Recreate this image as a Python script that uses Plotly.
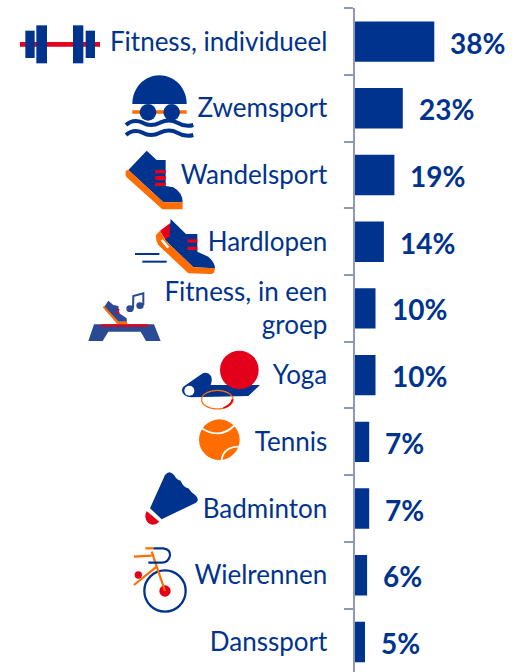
import re
import plotly.graph_objects as go

categories = ["Fitness, individueel", "Zwemsport", "Wandelsport", "Hardlopen",
              "Fitness, in een<br>groep", "Yoga", "Tennis", "Badminton", "Wielrennen", "Danssport"]
values = [38, 23, 19, 14, 10, 10, 7, 7, 6, 5]

NAVY = "#00338D"
RED = "#E2001A"
ORANGE = "#FF6C00"
AXIS = "#8E99B8"
W, H = 512, 672
FONT = "Lato"

shapes = []


def conv(d, ox, oy):
    toks = re.findall(r"[A-Za-z]|-?[\d.]+", d)
    out, isx = [], True
    for t in toks:
        if t.isalpha():
            out.append(t)
            isx = True
        else:
            v = float(t) / 3
            out.append(f"{(ox + v) / W:.5f}" if isx else f"{1 - (oy + v) / H:.5f}")
            isx = not isx
    res, i = "", 0
    while i < len(out):
        if out[i].isalpha():
            res += out[i]
            i += 1
        else:
            res += out[i] + "," + out[i + 1] + " "
            i += 2
    return res


def fill(o, d, c):
    shapes.append(dict(type="path", xref="paper", yref="paper", path=conv(d, *o),
                       fillcolor=c, line=dict(width=0), layer="above"))


def stroke(o, d, c, w):
    shapes.append(dict(type="path", xref="paper", yref="paper", path=conv(d, *o),
                       fillcolor="rgba(0,0,0,0)", line=dict(color=c, width=w), layer="above"))


def ell(o, cx, cy, rx, ry, c=None, lc=None, w=0):
    ox, oy = o
    shapes.append(dict(type="circle", xref="paper", yref="paper",
                       x0=(ox + (cx - rx) / 3) / W, x1=(ox + (cx + rx) / 3) / W,
                       y0=1 - (oy + (cy + ry) / 3) / H, y1=1 - (oy + (cy - ry) / 3) / H,
                       fillcolor=c or "rgba(0,0,0,0)", line=dict(color=lc or "rgba(0,0,0,0)", width=w), layer="above"))


def rect(o, x0, y0, x1, y1, c):
    fill(o, f"M{x0} {y0}L{x1} {y0}L{x1} {y1}L{x0} {y1}Z", c)


# Barbell
A = (0, 0)
rect(A, 60, 126, 300, 140, RED)
rect(A, 76, 92, 104, 174, NAVY)
rect(A, 109, 76, 141, 190, NAVY)
rect(A, 219, 76, 250, 190, NAVY)
rect(A, 257, 92, 285, 174, NAVY)
# Swimmer
fill(A, "M397 312C397 262 435 226 478 226C522 226 560 262 560 312Z", NAVY)
rect(A, 397, 331, 560, 341, ORANGE)
ell(A, 444, 337, 25, 25, NAVY)
ell(A, 515, 337, 25, 25, NAVY)
wave = "M378 {a}Q400 {b} 428 {c}Q452 {d} 480 {c}Q508 {b} 532 {c}Q556 {d} 580 {a}"
stroke(A, wave.format(a=375, b=355, c=368, d=382), NAVY, 4)
stroke(A, wave.format(a=405, b=385, c=398, d=412), NAVY, 4)
# Walking shoe
fill(A, "M440 452L470 480L497 480L497 558L520 562Q548 578 548 607L490 607L385 510Z", NAVY)
fill(A, "M377 512L385 510L490 607L548 607L548 628L487 628L380 532Q375 525 377 512Z", ORANGE)
for y0, y1 in ((510, 520), (528, 540), (548, 558)):
    rect(A, 465, y0, 497, y1, RED)

# Runner shoe
B = (80, 210)
fill(B, "M272 27L318 72L352 72L352 125L385 140Q405 158 405 175L340 172L255 90L270 45Z", NAVY)
fill(B, "M240 62L270 40L270 80L255 88Z", RED)
fill(B, "M228 75L240 62L255 90L340 172L405 175Q405 190 395 192L325 190L235 105Q226 90 228 75Z", ORANGE)
stroke(B, "M245 90L265 113", "white", 2.5)
rect(B, 322, 88, 352, 98, RED)
rect(B, 322, 110, 352, 120, RED)
stroke(B, "M165 132L238 132", NAVY, 2)
stroke(B, "M187 155L260 155", NAVY, 2)
# Step
STEP = "#2A4A93"
fill(B, "M42 343L222 343L242 393L198 393L182 365L85 365L68 393L25 393Z", STEP)
rect(B, 63, 343, 205, 350, RED)
fill(B, "M85 272L100 285L115 288L118 310L140 325L141 335L115 335L73 290Z", STEP)
fill(B, "M68 292L73 288L115 335L141 335L143 343L112 342Z", ORANGE)
rect(B, 107, 297, 118, 302, RED)
rect(B, 107, 306, 118, 311, RED)
ell(B, 150, 296, 11, 10, STEP)
ell(B, 180, 287, 11, 10, STEP)
stroke(B, "M159 296L160 258L190 250L190 285", STEP, 2)
# Yoga
fill(B, "M310 530L365 492Q382 482 393 498Q398 510 392 525L540 525L505 558L335 562Q308 560 306 542Q306 535 310 530Z", NAVY)
ell(B, 328, 542, 15, 15, "white")
ell(B, 478, 480, 58, 58, RED)
ell(B, 412, 569, 47, 28, None, ORANGE, 1.2)
stroke(B, "M430 594Q452 588 458 568", RED, 1.8)

# Tennis
C = (120, 410)
ell(C, 298, 89, 61, 61, ORANGE)
stroke(C, "M245 55Q300 90 345 45", "white", 1.8)
stroke(C, "M305 150Q310 112 355 110", "white", 1.8)
# Badminton
fill(C, "M135 195Q148 178 162 195Q170 210 182 212Q190 232 205 235Q215 250 226 256Q240 268 228 278L125 328L90 295Z", NAVY)
fill(C, "M80 303L118 335Q100 352 84 338Q70 322 80 303Z", RED)
# Bike
ell(C, 135, 543, 62, 62, None, NAVY, 2.3)
ell(C, 135, 543, 17, 17, RED)
stroke(C, "M135 543L95 425", ORANGE, 2.2)
stroke(C, "M42 440L95 437", ORANGE, 2.2)
stroke(C, "M42 525L110 470", ORANGE, 2.2)
stroke(C, "M100 415L130 415Q152 418 150 437Q145 458 125 458L85 458", NAVY, 2.2)
stroke(C, "M76 415L100 415", ORANGE, 2.2)
ell(C, 55, 495, 11, 11, RED)

fig = go.Figure(go.Bar(x=values, y=categories, orientation="h", marker=dict(color=NAVY, line=dict(width=0))))

annotations = [dict(x=v, y=c, xref="x", yref="y", text=f"<b>{v}%</b>", showarrow=False,
                    xanchor="left", yanchor="middle", xshift=14, yshift=-1,
                    font=dict(family=FONT, size=28, color=NAVY))
               for c, v in zip(categories, values)]

fig.update_layout(
    width=W, height=H, autosize=False,
    margin=dict(l=0, r=0, t=0, b=0, pad=0),
    plot_bgcolor="white", paper_bgcolor="white", showlegend=False, bargap=0.395,
    shapes=shapes, annotations=annotations,
    xaxis=dict(domain=[354.5 / W, 1], range=[0, 157.5 / 2.1], visible=False, fixedrange=True),
    yaxis=dict(domain=[0, 1 - 8.2 / H], type="category", categoryorder="array", categoryarray=categories,
               range=[9.45, -0.5], tickson="boundaries", ticks="outside", ticklen=9, tickwidth=2,
               tickcolor=AXIS, showline=True, linecolor=AXIS, linewidth=2, showgrid=False,
               ticklabelstandoff=20, automargin=False, fixedrange=True,
               tickfont=dict(family=FONT, size=26, color=NAVY)),
)
fig.write_html("out.html", config=dict(displayModeBar=False),
               post_script="document.body.style.margin='0';document.documentElement.style.overflow='hidden';")
